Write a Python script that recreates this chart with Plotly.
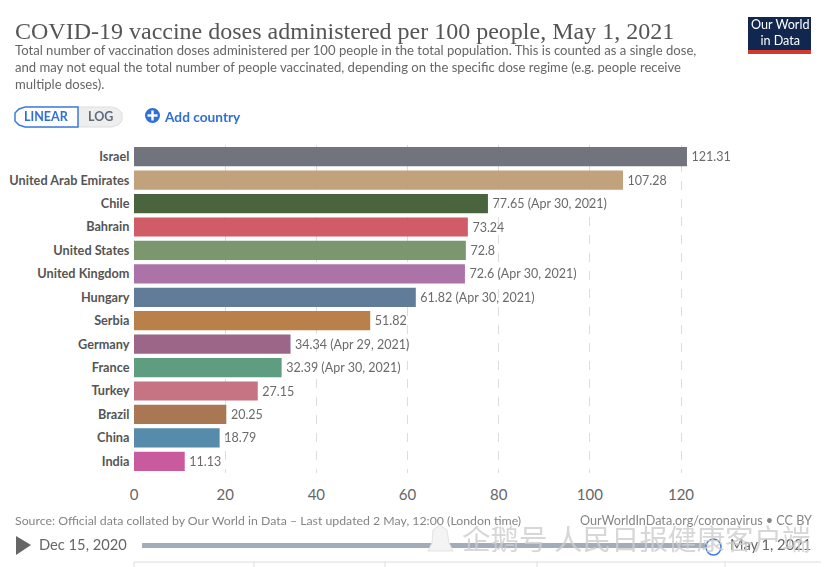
#!/usr/bin/env python3
import plotly.graph_objects as go

# the page puts an 8px margin around the figure, the overflow is cut off by the window
PAGE = 8
W = 829
H = 567

countries = ['Israel', 'United Arab Emirates', 'Chile', 'Bahrain', 'United States',
             'United Kingdom', 'Hungary', 'Serbia', 'Germany', 'France', 'Turkey',
             'Brazil', 'China', 'India']
doses = [121.31, 107.28, 77.65, 73.24, 72.8, 72.6, 61.82, 51.82, 34.34, 32.39,
         27.15, 20.25, 18.79, 11.13]
dates = ['', '', 'Apr 30, 2021', '', '', 'Apr 30, 2021', 'Apr 30, 2021', '',
         'Apr 29, 2021', 'Apr 30, 2021', '', '', '', '']
colors = ['#6d7079', '#bf9f78', '#456037', '#cf5763', '#76946a', '#aa6fa6',
          '#5c7896', '#b87c45', '#986284', '#5a9a7c', '#c56f80', '#a8734f',
          '#5288aa', '#c9559b']
tick_vals = [0, 20, 40, 60, 80, 100, 120]

title = 'COVID-19 vaccine doses administered per 100 people, May 1, 2021'
subtitle = ('Total number of vaccination doses administered per 100 people in the total population. '
            'This is counted as a single dose,<br>and may not equal the total number of people vaccinated, '
            'depending on the specific dose regime (e.g. people receive<br>multiple doses).')
source = 'Source: Official data collated by Our World in Data – Last updated 2 May, 12:00 (London time)'
credit = 'OurWorldInData.org/coronavirus • CC BY'

labels = []
for v, d in zip(doses, dates):
    labels.append(f'\u2009{v} ({d})' if d else f'\u2009{v}')

fig = go.Figure()
fig.add_trace(go.Bar(x=doses, y=countries, orientation='h', marker_color=colors,
                     marker_line_width=0, opacity=0.97, width=0.82,
                     text=labels, textposition='outside', cliponaxis=False,
                     textfont=dict(family='Lato', size=12.5, color='#666666')))

# margins set so that 0 -> x=134 and 120 -> x=681 in the screenshot
left, right, top, bottom = 134 - PAGE, 0, 145 - PAGE, 102
x_max = (W - left - right) / ((681 - 134) / 120)

fig.update_layout(width=W, height=H, paper_bgcolor='white', plot_bgcolor='white',
                  margin=dict(l=left, r=right, t=top, b=bottom), showlegend=False,
                  font=dict(family='Lato', color='#666666'))
fig.update_xaxes(range=[0, x_max], tickvals=tick_vals, showgrid=True, gridcolor='#dddddd',
                 griddash='dash', gridwidth=1, zeroline=False, showline=False, automargin=False,
                 ticks='outside', ticklen=8, tickcolor='rgba(0,0,0,0)',
                 tickfont=dict(family='Lato', size=15, color='#666666'))
fig.update_yaxes(autorange='reversed', categoryorder='array', categoryarray=countries,
                 showgrid=False, zeroline=False, showline=False, automargin=False,
                 ticks='outside', ticklen=1, tickcolor='rgba(0,0,0,0)',
                 tickfont=dict(family='Lato', size=12.7, color='#555555', weight='bold'))


# helpers take screenshot pixels
def px(x):
    return (x - PAGE - left) / (W - left - right)


def py(y):
    return 1 - (y - PAGE - top) / (H - top - bottom)


def note(x, y, text, size, color='#5b5b5b', family='Lato', anchor='left'):
    # annotations carry about 2px of padding
    nudge = {'left': -2, 'right': 2, 'center': 0}[anchor]
    fig.add_annotation(x=px(x + nudge), y=py(y), xref='paper', yref='paper', text=text, showarrow=False,
                       xanchor=anchor, yanchor='middle', align=anchor,
                       font=dict(family=family, size=size, color=color))


def box(x0, y0, x1, y1, **kw):
    fig.add_shape(type='rect', xref='paper', yref='paper', x0=px(x0), x1=px(x1),
                  y0=py(y0), y1=py(y1), **kw)


def outline(points, **kw):
    path = 'M ' + ' L '.join(f'{px(x)} {py(y)}' for x, y in points) + ' Z'
    fig.add_shape(type='path', xref='paper', yref='paper', path=path, **kw)


note(15, 31, title, 24, color='#555555', family='Liberation Serif')
note(15, 67, subtitle, 13.1, color='#666666')
note(15, 520, source, 12.3, color='#858585')
note(812, 520, credit, 12.6, color='#858585', anchor='right')

# logo
box(748, 17, 811, 54, fillcolor='#12274f', line_width=0)
box(748, 50, 811, 54, fillcolor='#ce3a2e', line_width=0)
note(779.5, 33, 'Our World<br>in Data', 12.6, color='white', anchor='center')

# linear / log toggle
outline([(25, 107), (112, 107), (118, 109), (122, 113), (122, 121), (118, 125), (112, 127), (25, 127)],
        fillcolor='#eeeeee', line=dict(color='#dddddd', width=1))
outline([(25, 107), (78, 107), (78, 127), (25, 127), (19, 125), (15, 121), (15, 113), (19, 109)],
        fillcolor='white', line=dict(color='#3b7be0', width=1.5))
note(46.5, 117, '<b>LINEAR</b>', 12.5, color='#2f6fd8', anchor='center')
note(100, 117, '<b>LOG</b>', 12.5, color='#5f6b7a', anchor='center')

# add country
fig.add_shape(type='circle', xref='paper', yref='paper', x0=px(145), x1=px(160),
              y0=py(108), y1=py(123), fillcolor='#2f6fd8', line_width=0)
box(147.5, 114.3, 157.5, 116.7, fillcolor='white', line_width=0)
box(151.3, 110.5, 153.7, 120.5, fillcolor='white', line_width=0)
note(164, 116, '<b>Add country</b>', 13.7, color='#2f6fd8')

# timeline
outline([(16, 536), (31, 545), (16, 555)], fillcolor='#666666', line_width=0)
note(39, 544, 'Dec 15, 2020', 14.7, color='#666666')
box(142, 543, 712, 548, fillcolor='#a3adba', line_width=0)
fig.add_shape(type='circle', xref='paper', yref='paper', x0=px(706), x1=px(721),
              y0=py(539), y1=py(555), fillcolor='white', line=dict(color='#3b7be0', width=1.5))
note(811, 544, 'May 1, 2021', 14.7, color='#666666', anchor='right')

# table header cut off at the bottom of the screenshot
fig.add_shape(type='line', xref='paper', yref='paper', x0=px(134), x1=px(829), y0=py(562), y1=py(562),
              line=dict(color='#dddddd', width=1))
for x in [134, 254, 385, 537, 725]:
    fig.add_shape(type='line', xref='paper', yref='paper', x0=px(x), x1=px(x), y0=py(562), y1=py(567),
                  line=dict(color='#dddddd', width=1))

# watermark
outline([(440, 525), (447, 530), (449, 543), (453, 551), (428, 551), (432, 543), (433, 530)],
        fillcolor='#f4f4f4', line=dict(color='#e2e2e2', width=1))
note(636, 537, '企鹅号 人民日报健康客户端', 28.5, color='rgba(205,205,205,0.8)',
     family='Noto Sans CJK SC', anchor='center')

# grey edge of the screenshot
box(826, 0, 829, 567, fillcolor='#f0f0f0', line_width=0)

fig.write_html("out.html")
